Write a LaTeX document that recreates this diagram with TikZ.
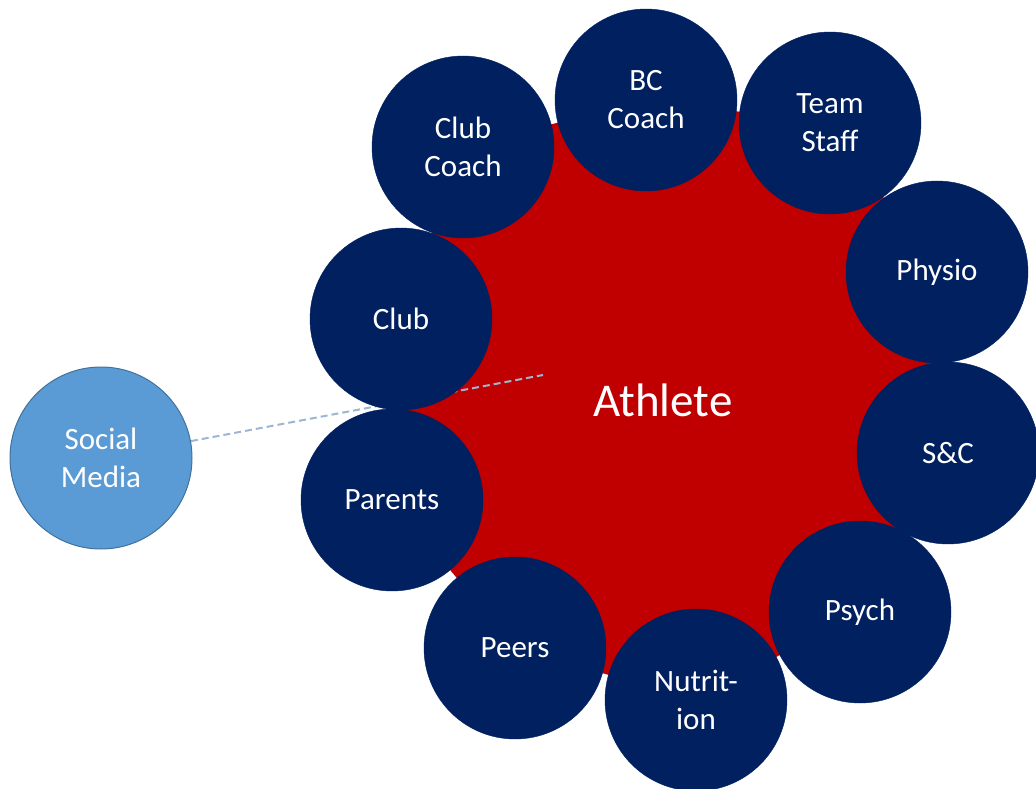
\documentclass[tikz,border=0pt]{standalone}
\usepackage{fontspec}
\setmainfont{Carlito}
\usetikzlibrary{backgrounds}
\definecolor{navy}{HTML}{002060}
\definecolor{athred}{HTML}{C00000}
\definecolor{smfill}{HTML}{5B9BD5}
\definecolor{smline}{HTML}{41719C}
\definecolor{dashcol}{HTML}{9DB6D3}
\tikzset{
  member/.style={circle, fill=navy, draw=navy, minimum size=182pt, inner sep=0pt,
    text=white, align=center, font=\fontsize{31}{38}\selectfont},
  social/.style={circle, fill=smfill, draw=smline, line width=1pt, minimum size=182pt, inner sep=0pt,
    text=white, align=center, font=\fontsize{31}{38}\selectfont},
  athlabel/.style={text=white, font=\fontsize{47}{56}\selectfont, inner sep=0pt},
  dashline/.style={draw=dashcol, line width=2pt, dash pattern=on 7pt off 4pt}
}
\begin{document}
\begin{tikzpicture}[x=1pt,y=-1pt]
\useasboundingbox (0,0) rectangle (1036,789);
\node[member] (bccoach) at (646,100) {BC\\Coach};
\node[member] (teamstaff) at (830,123) {Team\\Staff};
\node[member] (clubcoach) at (463,147) {Club\\Coach};
\node[member] (physio) at (937,272) {Physio};
\node[member] (club) at (401,319) {Club};
\node[member] (sc) at (948,453) {S\&C};
\node[member] (parents) at (392,500) {Parents};
\node[member] (psych) at (860,612) {Psych};
\node[member] (peers) at (515,648) {Peers};
\node[member] (nutrition) at (696,700) {Nutrit-\\ion};
\node[social] (socialmedia) at (101,458) {Social\\Media};
\node[athlabel] (athlete) at (663,400) {Athlete};
\coordinate (lineend) at (543,375);
\begin{pgfonlayer}{background}
\fill[athred] (clubcoach.center) -- (bccoach.center) -- (teamstaff.center) -- (physio.center)
  -- (sc.center) -- (psych.center) -- (nutrition.center) -- (peers.center)
  -- (parents.center) -- (club.center) -- cycle;
\draw[dashline] (socialmedia) -- (lineend);
\end{pgfonlayer}
\end{tikzpicture}
\end{document}
